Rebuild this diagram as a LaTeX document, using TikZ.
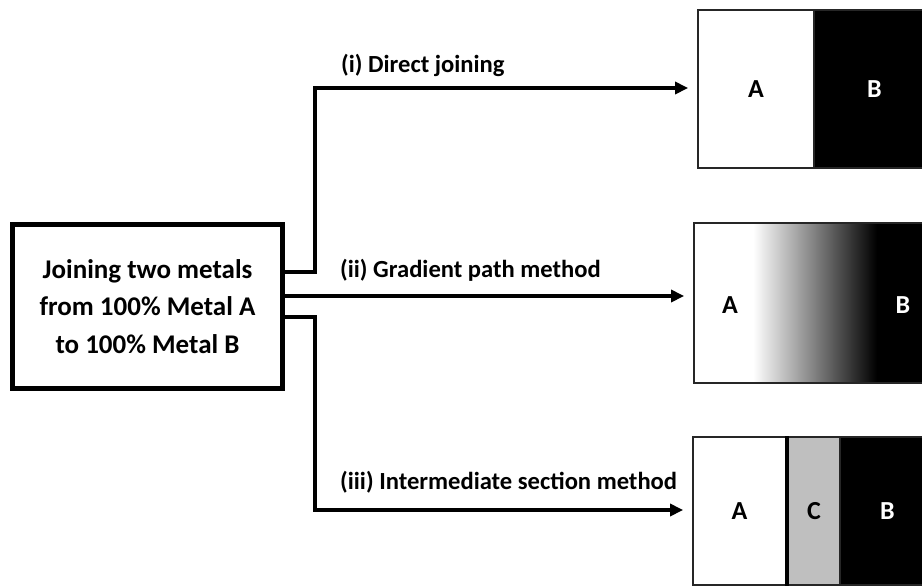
\documentclass[tikz,border=0pt]{standalone}
\usepackage{fontspec}
\setmainfont{Carlito}
\usetikzlibrary{arrows.meta}
\begin{document}
\begin{tikzpicture}[x=1pt,y=-1pt,
  lbl/.style={font=\bfseries\fontsize{24.6}{28}\selectfont, anchor=base west, inner sep=0pt},
  conn/.style={line width=3.5pt, shorten >=9pt, -{Triangle[length=13pt,width=12pt]}},
  seg/.style={draw=black!85, line width=1.8pt, inner sep=0pt, font=\bfseries\fontsize{26}{30}\selectfont},
  letter/.style={inner sep=0pt, font=\bfseries\fontsize{26}{30}\selectfont}
]
\useasboundingbox (0,0) rectangle (922,587);
\clip (0,0) rectangle (922,587);

% source box
\node[draw, line width=5pt, minimum width=270pt, minimum height=164pt, align=center,
      font=\bfseries\fontsize{27}{37.5}\selectfont] (src) at (147.5,306.5)
  {Joining two metals\\from 100\% Metal A\\to 100\% Metal B};

% top box: direct joining
\node[seg, fill=white, minimum width=116pt, minimum height=158pt] (topA) at (756,89) {A};
\node[seg, fill=black, text=white, minimum width=121pt, minimum height=158pt] (topB) at (874.5,89) {B};

% middle box: gradient
\fill[white] (694,223) rectangle (753,383);
\shade[left color=white, right color=black] (753,223) rectangle (877,383);
\fill[black] (877,223) rectangle (935,383);
\node[draw=black!85, line width=1.8pt, minimum width=241pt, minimum height=160pt, inner sep=0pt] (mid) at (814.5,303) {};
\node[letter] (midA) at (730,305) {A};
\node[letter, text=white] (midB) at (903,305) {B};

% bottom box: intermediate section
\node[seg, fill=white, minimum width=93pt, minimum height=148pt] (botA) at (739.5,511) {A};
\node[seg, fill=black!25, minimum width=52pt, minimum height=148pt] (botC) at (814,511) {C};
\node[seg, fill=black, text=white, minimum width=95pt, minimum height=148pt] (botB) at (887.5,511) {B};
\draw[line width=3.5pt] (botA.north east) -- (botA.south east);

% connectors
\coordinate (k1) at (315,88);
\coordinate (k3) at (315,510);
\draw[conn] (src.east |- 0,272) -| (k1) -- (topA.west |- k1);
\draw[conn] (src.east |- 0,296) -- (mid.west |- 0,296);
\draw[conn] (src.east |- 0,317) -| (k3) -- (botA.west |- k3);

% labels
\node[lbl] (l1) at (341,72) {(i) Direct joining};
\node[lbl] (l2) at (340,277) {(ii) Gradient path method};
\node[lbl] (l3) at (340,489) {(iii) Intermediate section method};
\end{tikzpicture}
\end{document}
